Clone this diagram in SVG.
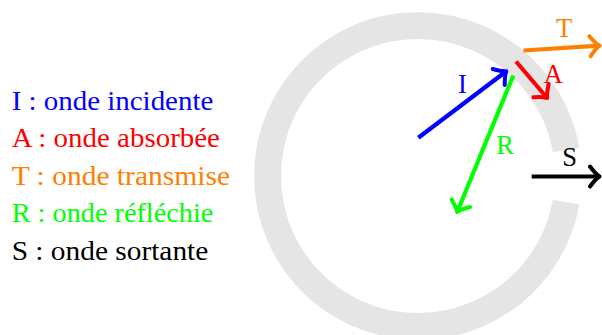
<svg xmlns="http://www.w3.org/2000/svg" width="602" height="335" viewBox="0 0 602 335">
<style>
.t{font-family:'Liberation Serif','Times New Roman',serif;font-size:26.5px}
.a{fill:none;stroke-width:4.2;stroke-linecap:butt}
.h{fill:none;stroke-width:4;stroke-linecap:round;stroke-linejoin:round}
.blue{fill:#0000ff}.red{fill:#ff0000}.orange{fill:#ff8000}.green{fill:#00ff00}.black{fill:#000}
</style>
<defs>
<marker id="mB" markerUnits="userSpaceOnUse" orient="auto" markerWidth="30" markerHeight="30" viewBox="-15 -15 30 30" refX="0" refY="0" overflow="visible"><path class="h" stroke="#0000ff" d="M-9.5,-10 C-5,-4 -2,-1.2 0,0 C-2,1.2 -5,4 -9.5,10"/></marker>
<marker id="mR" markerUnits="userSpaceOnUse" orient="auto" markerWidth="30" markerHeight="30" viewBox="-15 -15 30 30" refX="0" refY="0" overflow="visible"><path class="h" stroke="#ff0000" d="M-9.5,-10 C-5,-4 -2,-1.2 0,0 C-2,1.2 -5,4 -9.5,10"/></marker>
<marker id="mO" markerUnits="userSpaceOnUse" orient="auto" markerWidth="30" markerHeight="30" viewBox="-15 -15 30 30" refX="0" refY="0" overflow="visible"><path class="h" stroke="#ff8000" d="M-9.5,-10 C-5,-4 -2,-1.2 0,0 C-2,1.2 -5,4 -9.5,10"/></marker>
<marker id="mG" markerUnits="userSpaceOnUse" orient="auto" markerWidth="30" markerHeight="30" viewBox="-15 -15 30 30" refX="0" refY="0" overflow="visible"><path class="h" stroke="#00ff00" d="M-9.5,-10 C-5,-4 -2,-1.2 0,0 C-2,1.2 -5,4 -9.5,10"/></marker>
<marker id="mK" markerUnits="userSpaceOnUse" orient="auto" markerWidth="30" markerHeight="30" viewBox="-15 -15 30 30" refX="0" refY="0" overflow="visible"><path class="h" stroke="#000000" d="M-9.5,-10 C-5,-4 -2,-1.2 0,0 C-2,1.2 -5,4 -9.5,10"/></marker>
</defs>
<g id="ring">
<path d="M566.1,149.9 A150.4,150.4 0 1 0 566.1,202.1" fill="none" stroke="#e5e5e5" stroke-width="26.8"/>
</g>
<g id="legend">
<g id="leg-I"><text x="11.7" y="109.5" class="t blue" textLength="201.6" lengthAdjust="spacingAndGlyphs">I : onde incidente</text></g>
<g id="leg-A"><text x="11.7" y="147" class="t red" textLength="208.3" lengthAdjust="spacingAndGlyphs">A : onde absorbée</text></g>
<g id="leg-T"><text x="11.7" y="184.5" class="t orange" textLength="218.3" lengthAdjust="spacingAndGlyphs">T : onde transmise</text></g>
<g id="leg-R"><text x="11.7" y="222" class="t green" textLength="201.6" lengthAdjust="spacingAndGlyphs">R : onde réfléchie</text></g>
<g id="leg-S"><text x="11.7" y="259.5" class="t black" textLength="196.6" lengthAdjust="spacingAndGlyphs">S : onde sortante</text></g>
</g>
<g id="connectors">
<line class="a" stroke="#0000ff" x1="418.3" y1="137.7" x2="506.3" y2="71.3" marker-end="url(#mB)"/>
<line class="a" stroke="#00ff00" x1="513.3" y1="75.5" x2="457.2" y2="212" marker-end="url(#mG)"/>
<line class="a" stroke="#ff0000" x1="516" y1="61.5" x2="547.2" y2="98" marker-end="url(#mR)"/>
<line class="a" stroke="#ff8000" x1="523.5" y1="50.5" x2="599.5" y2="45.6" marker-end="url(#mO)"/>
<line class="a" stroke="#000000" x1="531.7" y1="176.5" x2="599.5" y2="176.5" marker-end="url(#mK)"/>
</g>
<g id="labels">
<g id="lbl-I"><text x="462.5" y="92.5" class="t blue" text-anchor="middle">I</text></g>
<g id="lbl-A"><text x="553.3" y="82.5" class="t red" text-anchor="middle">A</text></g>
<g id="lbl-T"><text x="564" y="36.5" class="t orange" text-anchor="middle">T</text></g>
<g id="lbl-R"><text x="505" y="154" class="t green" text-anchor="middle">R</text></g>
<g id="lbl-S"><text x="569.7" y="165.5" class="t black" text-anchor="middle">S</text></g>
</g>
</svg>
